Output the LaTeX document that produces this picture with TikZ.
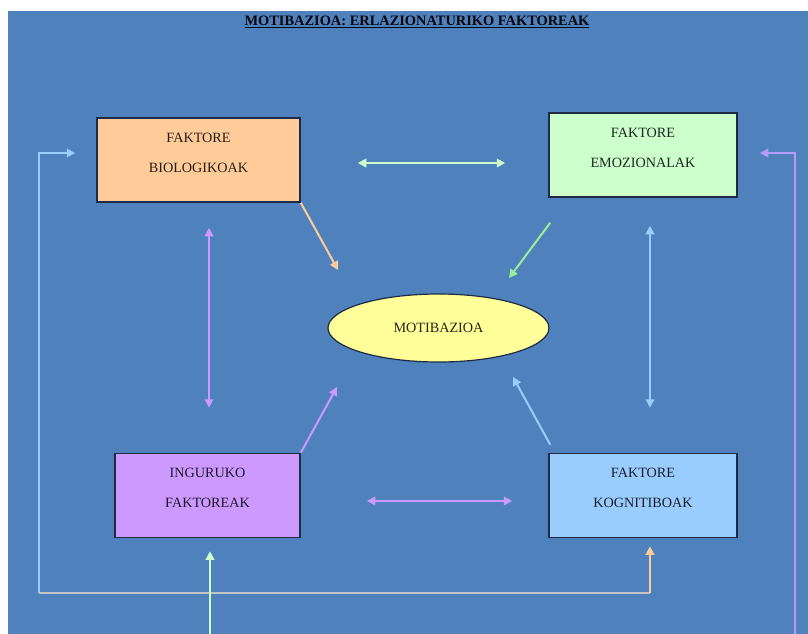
\documentclass[tikz,border=0pt]{standalone}
\usepackage{fontspec}
\setmainfont{Liberation Serif}
\usetikzlibrary{arrows.meta, shapes.geometric}
\definecolor{cback}{HTML}{4F81BD}
\definecolor{cedge}{HTML}{1F2B45}
\definecolor{cbio}{HTML}{FFCC99}
\definecolor{cemo}{HTML}{CCFFCC}
\definecolor{cing}{HTML}{CC99FF}
\definecolor{ckog}{HTML}{99CCFF}
\definecolor{cmot}{HTML}{FFFF99}
\definecolor{cgreen}{HTML}{99EE99}
\definecolor{cgrey}{HTML}{C4C4C4}
\definecolor{clav}{HTML}{B49BF5}
\newcommand{\boxlines}[2]{\parbox[c][54pt][t]{160pt}{\centering #1\\#2}}
\tikzset{
  every picture/.style={font=\fontsize{14.2}{30}\selectfont},
  box/.style={draw=cedge, fill=#1, text=#1!15!black, line width=1.5pt, inner sep=0pt, minimum height=84pt},
  link/.style={draw=#1, line width=2pt, -{Triangle[length=8.5pt, width=8.5pt]}},
  duallink/.style={link=#1, {Triangle[length=8.5pt, width=8.5pt]}-{Triangle[length=8.5pt, width=8.5pt]}},
  title/.style={font=\fontsize{14.4}{16}\selectfont\bfseries, text=black!85!cedge},
}
\begin{document}
\begin{tikzpicture}[x=1pt, y=-1pt]
  \useasboundingbox (0,0) rectangle (808,634);
  \fill[white] (0,0) rectangle (808,634);
  \fill[cback] (8,11) rectangle (808,634);
  \node[title] (head) at (417,22) {\underline{MOTIBAZIOA: ERLAZIONATURIKO FAKTOREAK}};
  % the four factors and the centre
  \node[box=cbio, minimum width=203pt] (bio) at (198.5,160) {\boxlines{FAKTORE}{BIOLOGIKOAK}};
  \node[box=cemo, minimum width=188pt] (emo) at (643,155) {\boxlines{FAKTORE}{EMOZIONALAK}};
  \node[box=cing, minimum width=185pt] (ing) at (207.5,495.5) {\boxlines{INGURUKO}{FAKTOREAK}};
  \node[box=ckog, minimum width=188pt] (kog) at (643,495.5) {\boxlines{FAKTORE}{KOGNITIBOAK}};
  \node[ellipse, draw=cedge, fill=cmot, text=cmot!15!black, line width=1.2pt, minimum width=221pt, minimum height=68pt] (mot) at (438.5,328) {MOTIBAZIOA};
  % into the centre
  \draw[link=cbio] (bio.south east) -- ([shift={(-100.5,-58)}]mot.center);
  \draw[link=cgreen] ([shift={(2,25)}]emo.south west) -- ([shift={(70.5,-50)}]mot.center);
  \draw[link=cing] (ing.north east) -- ([shift={(-101.5,59)}]mot.center);
  \draw[link=ckog] ([shift={(2,-8)}]kog.north west) -- ([shift={(74.5,49)}]mot.center);
  % between the factors
  \draw[duallink=cemo] ([shift={(57,3)}]bio.east) -- ([shift={(-43,8)}]emo.west);
  \draw[duallink=cing] ([shift={(10.5,25)}]bio.south) -- ([shift={(1.5,-45)}]ing.north);
  \draw[duallink=ckog] ([shift={(7,28)}]emo.south) -- ([shift={(7,-45)}]kog.north);
  \draw[duallink=cing] ([shift={(66,5.5)}]ing.east) -- ([shift={(-36,5.5)}]kog.west);
  % outer loops
  \coordinate (loopL) at (39,593);
  \coordinate (loopR) at (650,593);
  \coordinate (rightEnd) at (795,634);
  \coordinate (bottomEnd) at (210,634);
  \draw[link=ckog] (loopL) |- ([shift={(-21,-7)}]bio.west);
  \draw[draw=cgrey, line width=2pt] (loopL) -- (loopR);
  \draw[link=cbio] (loopR) -- ([shift={(7,8)}]kog.south);
  \draw[link=clav] (rightEnd) |- ([shift={(22,-2)}]emo.east);
  \draw[link=cemo] (bottomEnd) -- ([shift={(2.5,13)}]ing.south);
\end{tikzpicture}
\end{document}
